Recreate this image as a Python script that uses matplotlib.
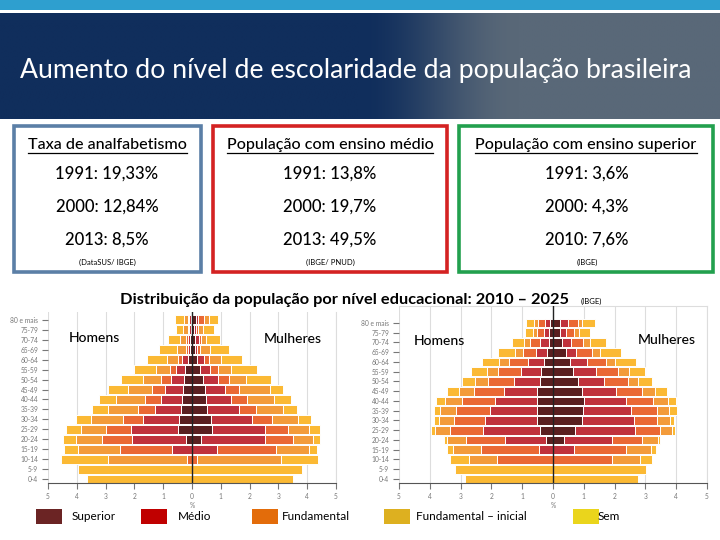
import numpy as np
import matplotlib
matplotlib.use('Agg')
import matplotlib.pyplot as plt
from matplotlib.patches import Rectangle

plt.rcParams['font.family'] = ['Lato', 'DejaVu Sans']

# faixas etarias (de baixo para cima)
idades = ['0-4', '5-9', '10-14', '15-19', '20-24', '25-29', '30-34', '35-39', '40-44',
          '45-49', '50-54', '55-59', '60-64', '65-69', '70-74', '75-79', '80 e mais']

# 2010 - homens (% da populacao)
h10_sup = [0, 0, 0, 0, 0.21, 0.48, 0.46, 0.38, 0.33, 0.31, 0.27, 0.23, 0.15, 0.07, 0.07, 0.04, 0.05]
h10_med = [0, 0, 0, 0.68, 1.87, 1.65, 1.25, 0.92, 0.76, 0.64, 0.47, 0.31, 0.19, 0.07, 0.07, 0.05, 0.04]
h10_fun = [0, 0, 0.17, 1.81, 1.05, 0.84, 0.70, 0.57, 0.54, 0.43, 0.35, 0.23, 0.16, 0.08, 0.08, 0.06, 0.05]
h10_ini = [0, 0, 2.73, 1.48, 0.90, 0.90, 1.08, 1.06, 1.00, 0.83, 0.62, 0.48, 0.38, 0.31, 0.19, 0.16, 0.15]
h10_sem = [3.66, 3.95, 1.64, 0.47, 0.44, 0.50, 0.53, 0.55, 0.60, 0.70, 0.75, 0.75, 0.68, 0.62, 0.43, 0.26, 0.30]

# 2010 - mulheres
m10_sup = [0, 0, 0, 0, 0.32, 0.68, 0.65, 0.53, 0.47, 0.45, 0.37, 0.29, 0.19, 0.10, 0.09, 0.07, 0.13]
m10_med = [0, 0, 0, 0.87, 2.23, 1.86, 1.45, 1.09, 0.89, 0.70, 0.53, 0.34, 0.23, 0.09, 0.14, 0.06, 0.08]
m10_fun = [0, 0, 0.17, 2.03, 0.95, 0.81, 0.68, 0.61, 0.55, 0.47, 0.40, 0.28, 0.17, 0.08, 0.07, 0.08, 0.20]
m10_ini = [0, 0, 2.92, 1.17, 0.69, 0.72, 0.90, 0.94, 0.93, 1.09, 0.59, 0.46, 0.40, 0.34, 0.19, 0.17, 0.17]
m10_sem = [3.52, 3.81, 1.27, 0.27, 0.27, 0.38, 0.46, 0.47, 0.60, 0.45, 0.85, 0.88, 0.76, 0.68, 0.48, 0.37, 0.33]

# 2025 - homens
h25_sup = [0, 0, 0, 0, 0.22, 0.41, 0.51, 0.51, 0.51, 0.52, 0.43, 0.38, 0.29, 0.18, 0.14, 0.12, 0.11]
h25_med = [0, 0, 0, 0.46, 1.35, 1.86, 1.70, 1.55, 1.38, 1.07, 0.84, 0.66, 0.53, 0.36, 0.27, 0.16, 0.15]
h25_fun = [0, 0, 1.81, 1.89, 1.24, 1.07, 1.00, 1.08, 1.08, 0.98, 0.85, 0.75, 0.62, 0.45, 0.35, 0.23, 0.23]
h25_ini = [0, 0, 0.91, 0.91, 0.62, 0.48, 0.50, 0.53, 0.54, 0.48, 0.41, 0.35, 0.30, 0.25, 0.19, 0.14, 0.12]
h25_sem = [2.87, 3.19, 0.62, 0.17, 0.11, 0.15, 0.15, 0.18, 0.30, 0.38, 0.42, 0.53, 0.56, 0.55, 0.39, 0.26, 0.26]

# 2025 - mulheres
m25_sup = [0, 0, 0, 0, 0.37, 0.73, 0.93, 0.98, 1.00, 0.93, 0.80, 0.66, 0.55, 0.41, 0.28, 0.22, 0.22]
m25_med = [0, 0, 0, 0.68, 1.53, 1.94, 1.69, 1.54, 1.36, 1.10, 0.86, 0.75, 0.56, 0.35, 0.32, 0.19, 0.26]
m25_fun = [0, 0, 1.90, 1.68, 0.99, 0.79, 0.77, 0.85, 0.88, 0.87, 0.76, 0.70, 0.62, 0.52, 0.38, 0.28, 0.32]
m25_ini = [0, 0, 0.93, 0.83, 0.52, 0.40, 0.40, 0.40, 0.48, 0.42, 0.35, 0.35, 0.29, 0.23, 0.21, 0.16, 0.15]
m25_sem = [2.77, 3.03, 0.39, 0.16, 0.05, 0.10, 0.15, 0.24, 0.27, 0.39, 0.45, 0.52, 0.66, 0.70, 0.54, 0.36, 0.42]

niveis = ['Superior', 'Médio', 'Fundamental', 'Fundamental – inicial', 'Sem']
cores_barras = ['#5a1f20', '#c0313c', '#ea6834', '#f39b3a', '#fbb934']
cores_legenda = ['#6b2424', '#c00000', '#e36c0a', '#ddb020', '#ead51c']

# caixas de indicadores
caixa_titulos = ['Taxa de analfabetismo', 'População com ensino médio', 'População com ensino superior']
caixa_valores = [['1991: 19,33%', '2000: 12,84%', '2013: 8,5%'],
                 ['1991: 13,8%', '2000: 19,7%', '2013: 49,5%'],
                 ['1991: 3,6%', '2000: 4,3%', '2010: 7,6%']]
caixa_fontes = ['(DataSUS/ IBGE)', '(IBGE/ PNUD)', '(IBGE)']

W, H = 720, 540
fig = plt.figure(figsize=(7.2, 5.4), dpi=100)
fig.patch.set_facecolor('white')

bg = fig.add_axes([0, 0, 1, 1])
bg.axis('off')

# faixa superior e banner com degrade
bg.add_patch(Rectangle((0, 0), 720, 10, color='#2e9fcf', lw=0))
xs = np.linspace(0, 1, 400)
t = np.clip((xs - 0.50) / 0.22, 0, 1)
t = t * t * (3 - 2 * t)
c0 = np.array([0x10, 0x2e, 0x5c]) / 255
c1 = np.array([0x59, 0x68, 0x78]) / 255
grad = (c0[None, :] * (1 - t[:, None]) + c1[None, :] * t[:, None])[None, :, :]
bg.imshow(grad, extent=(0, 720, 119, 13), aspect='auto', interpolation='bilinear')
bg.set_xlim(0, 720)
bg.set_ylim(540, 0)

bg.text(356, 78, 'Aumento do nível de escolaridade da população brasileira',
        color='white', fontsize=19.2, ha='center', va='baseline')

# caixas
caixa_x = [(14, 201), (213, 447), (459, 713)]
caixa_cor = ['#5b7fa6', '#d42222', '#22a04e']
centro_val = [107, 330, 587]
renderer = fig.canvas.get_renderer()
for i in range(3):
    x0, x1 = caixa_x[i]
    bg.add_patch(Rectangle((x0, 126), x1 - x0, 146, fill=False,
                           edgecolor=caixa_cor[i], lw=2.6))
    xc = (x0 + x1) / 2
    tt = bg.text(xc, 149, caixa_titulos[i], fontsize=11.6, fontweight='medium',
                 ha='center', va='baseline', color='black')
    bb = tt.get_window_extent(renderer)
    xa, xb = bb.x0, bb.x1  # pixels == coordenadas do bg em x
    bg.plot([xa, xb], [152.5, 152.5], color='black', lw=0.9)
    for j, v in enumerate(caixa_valores[i]):
        bg.text(centro_val[i], 179 + 33 * j, v, fontsize=12, fontweight='medium',
                ha='center', va='baseline')
    bg.text(centro_val[i], 265, caixa_fontes[i], fontsize=5.5, ha='center', va='baseline')

bg.text(345, 304, 'Distribuição da população por nível educacional: 2010 – 2025',
        fontsize=11.8, fontweight='bold', ha='center', va='baseline')
bg.text(591, 304, '(IBGE)', fontsize=5.5, ha='center', va='baseline')


def ax_px(x0, y0, x1, y1):
    return [x0 / W, 1 - y1 / H, (x1 - x0) / W, (y1 - y0) / H]


def piramide(ax, homens, mulheres):
    y = np.arange(len(idades))
    for sinal, series in ((-1, homens), (1, mulheres)):
        base = np.zeros(len(idades))
        for vals, cor in zip(series, cores_barras):
            vals = np.array(vals)
            ax.barh(y, sinal * vals, left=sinal * base, height=0.9, color=cor,
                    edgecolor='white', linewidth=0.7, zorder=2)
            base += vals
    ax.axvline(0, color='#222222', lw=1.0, zorder=3)
    ax.set_xlim(-5, 5)
    ax.set_xticks(range(-5, 6))
    ax.set_xticklabels([str(abs(v)) for v in range(-5, 6)])
    ax.set_yticks(y)
    ax.set_yticklabels(idades)
    ax.tick_params(axis='both', labelsize=4.8, colors='#777777', length=4, width=0.8)
    ax.tick_params(axis='y', pad=3)
    ax.grid(axis='x', color='#dddddd', lw=0.8, zorder=0)
    ax.set_axisbelow(True)
    ax.spines['left'].set_visible(False)
    ax.spines['bottom'].set_color('#555555')
    ax.spines['right'].set_color('#dddddd')
    ax.spines['top'].set_color('#dddddd')
    ax.set_xlabel('%', fontsize=4.8, color='#777777', labelpad=1)


ax1 = fig.add_axes(ax_px(48, 312, 336, 483))
piramide(ax1, [h10_sup, h10_med, h10_fun, h10_ini, h10_sem],
         [m10_sup, m10_med, m10_fun, m10_ini, m10_sem])
ax1.set_ylim(-0.4, 16.8)
ax1.spines['top'].set_visible(False)

ax2 = fig.add_axes(ax_px(399, 306, 707, 483))
piramide(ax2, [h25_sup, h25_med, h25_fun, h25_ini, h25_sem],
         [m25_sup, m25_med, m25_fun, m25_ini, m25_sem])
ax2.set_ylim(-0.41, 17.74)

# rotulos homens / mulheres
ax1.text(-3.4, 14.2, 'Homens', fontsize=10, fontweight='medium', ha='center', va='center', zorder=5)
ax1.text(3.5, 14.1, 'Mulheres', fontsize=10, fontweight='medium', ha='center', va='center', zorder=5)
ax2.text(-3.7, 14.2, 'Homens', fontsize=10, fontweight='medium', ha='center', va='center', zorder=5)
ax2.text(3.7, 14.3, 'Mulheres', fontsize=10, fontweight='medium', ha='center', va='center', zorder=5)

# legenda
leg_patch_x = [36, 141, 252, 384, 573]
leg_text_x = [72, 178, 282, 416, 598]
for px, tx, nome, cor in zip(leg_patch_x, leg_text_x, niveis, cores_legenda):
    bg.add_patch(Rectangle((px, 509), 26, 15, color=cor, lw=0))
    bg.text(tx, 517, nome, fontsize=8.5, ha='left', va='center')

bg.set_zorder(-1)
fig.savefig('out.png', dpi=100)
